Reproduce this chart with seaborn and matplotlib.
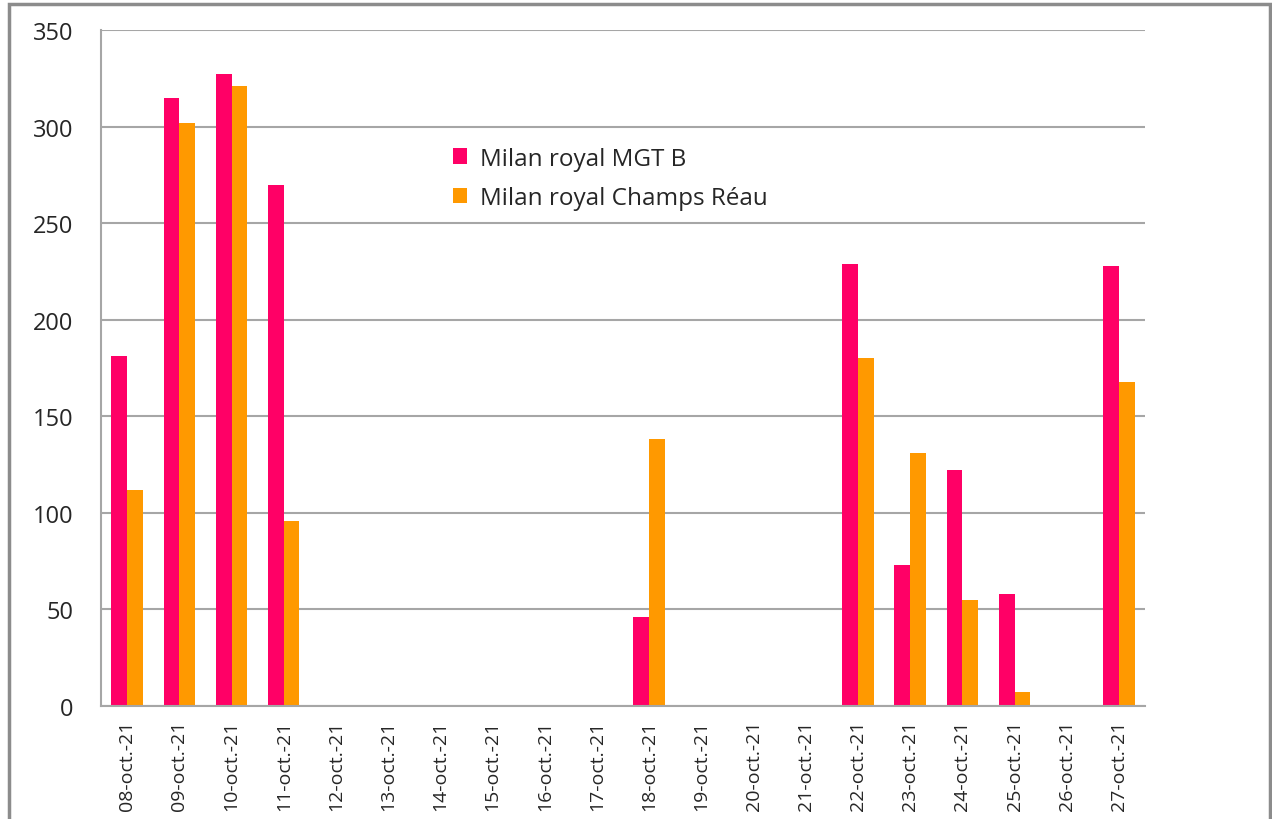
import pandas as pd
import numpy as np
import seaborn as sns
import matplotlib.pyplot as plt
from matplotlib.patches import Rectangle

dates = ['08-oct.-21', '09-oct.-21', '10-oct.-21', '11-oct.-21', '12-oct.-21',
         '13-oct.-21', '14-oct.-21', '15-oct.-21', '16-oct.-21', '17-oct.-21',
         '18-oct.-21', '19-oct.-21', '20-oct.-21', '21-oct.-21', '22-oct.-21',
         '23-oct.-21', '24-oct.-21', '25-oct.-21', '26-oct.-21', '27-oct.-21']
mgt_b = [181, 315, 327, 270, 0, 0, 0, 0, 0, 0, 46, 0, 0, 0, 229, 73, 122, 58, 0, 228]
champs_reau = [112, 302, 321, 96, 0, 0, 0, 0, 0, 0, 138, 0, 0, 0, 180, 131, 55, 7, 0, 168]
series_names = ['Milan royal MGT B', 'Milan royal Champs Réau']
colors = ['#FF0066', '#FF9900']
y_ticks = [0, 50, 100, 150, 200, 250, 300, 350]

df = pd.DataFrame({'date': dates * 2,
                   'value': mgt_b + champs_reau,
                   'serie': [series_names[0]] * len(dates) + [series_names[1]] * len(dates)})

sns.set_style('white')
plt.rcParams['font.family'] = ['Open Sans', 'DejaVu Sans']

fig = plt.figure(figsize=(12.72, 8.2), dpi=100)
ax = fig.add_axes([0.0794, 0.1378, 0.8208, 0.8244])

sns.barplot(data=df, x='date', y='value', hue='serie', palette=colors,
            width=0.6, gap=0, ax=ax, saturation=1, edgecolor='none')

ax.set_ylim(0, 350)
ax.set_xlim(-0.5, len(dates) - 0.5)
ax.set_yticks(y_ticks)
ax.set_yticklabels([str(v) for v in y_ticks], fontsize=17, color='#262626')
ax.yaxis.grid(True, color='#a6a6a6', linewidth=1.5)
ax.set_axisbelow(True)
ax.set_xlabel('')
ax.set_ylabel('')

# category ticks sit between the groups, labels at the centres
ax.set_xticks(np.arange(len(dates) + 1) - 0.5)
ax.set_xticklabels([])
ax.set_xticks(np.arange(len(dates)), minor=True)
ax.set_xticklabels(dates, minor=True, rotation=90, fontsize=14, color='#262626')
ax.tick_params(axis='x', which='major', length=7, width=1.5, color='#a6a6a6', direction='out')
ax.tick_params(axis='x', which='minor', length=0, pad=10)
ax.tick_params(axis='y', length=8, width=1.5, color='#a6a6a6', direction='out', pad=12)

for side in ['top', 'right']:
    ax.spines[side].set_visible(False)
for side in ['left', 'bottom']:
    ax.spines[side].set_color('#a6a6a6')
    ax.spines[side].set_linewidth(1.5)

leg = ax.legend(loc='upper left', bbox_to_anchor=(0.316, 0.86), frameon=False,
                fontsize=17.5, handlelength=0.6, handleheight=0.6,
                handletextpad=0.5, labelspacing=0.65)
for t in leg.get_texts():
    t.set_color('#262626')

fig.patches.append(Rectangle((9 / 1272, -0.01), 1261 / 1272, 1 - 5 / 820 + 0.01,
                             transform=fig.transFigure, fill=False,
                             edgecolor='#8c8c8c', linewidth=2.5))

plt.savefig('out.png', dpi=100)
